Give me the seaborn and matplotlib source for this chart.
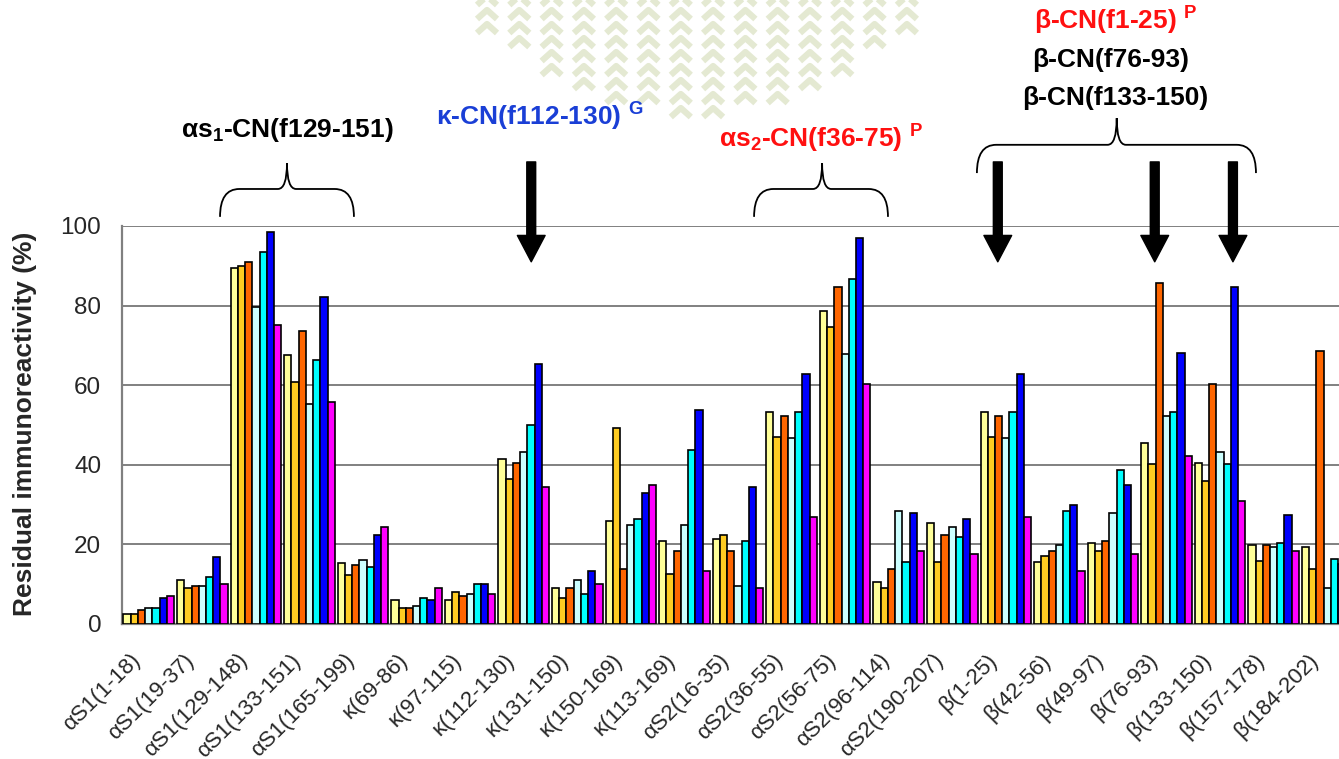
import numpy as np
import pandas as pd
import matplotlib
matplotlib.use("Agg")
import matplotlib.pyplot as plt
import matplotlib.transforms as mtransforms
from matplotlib.path import Path
from matplotlib.patches import PathPatch
from matplotlib.lines import Line2D
import seaborn as sns

# peptide fragments on the x axis
peptides = ["αS1(1-18)", "αS1(19-37)", "αS1(129-148)", "αS1(133-151)", "αS1(165-199)",
            "κ(69-86)", "κ(97-115)", "κ(112-130)", "κ(131-150)", "κ(150-169)", "κ(113-169)",
            "αS2(16-35)", "αS2(36-55)", "αS2(56-75)", "αS2(96-114)", "αS2(190-207)",
            "β(1-25)", "β(42-56)", "β(49-97)", "β(76-93)", "β(133-150)", "β(157-178)", "β(184-202)"]

series = ["S1", "S2", "S3", "S4", "S5", "S6", "S7"]
colors = ["#FFFF99", "#FFCC22", "#FF6600", "#CCFFFF", "#00FFFF", "#0000FF", "#FF00FF"]

s1 = [2.5, 11.1, 89.4, 67.5, 15.3, 6.0, 6.0, 41.5, 9.1, 25.8, 20.8, 21.3, 53.3, 78.6, 10.6, 25.3, 53.3, 15.7, 20.3, 45.6, 40.5, 19.8, 19.3]
s2 = [2.5, 9.1, 89.9, 60.9, 12.2, 4.0, 8.0, 36.5, 6.5, 49.2, 12.6, 22.3, 47.1, 74.6, 9.1, 15.7, 47.1, 17.2, 18.3, 40.1, 36.0, 15.8, 13.7]
s3 = [3.5, 9.6, 90.9, 73.6, 14.7, 4.0, 7.0, 40.5, 9.1, 13.7, 18.3, 18.3, 52.2, 84.7, 13.7, 22.3, 52.2, 18.3, 20.8, 85.8, 60.4, 19.8, 68.5]
s4 = [4.1, 9.6, 79.6, 55.2, 16.2, 4.6, 7.5, 43.1, 11.1, 24.8, 24.8, 9.6, 46.7, 67.9, 28.3, 24.3, 46.7, 19.8, 27.8, 52.2, 43.1, 19.3, 9.1]
s5 = [4.1, 11.7, 93.4, 66.4, 14.2, 6.5, 10.1, 50.1, 7.5, 26.3, 43.7, 20.8, 53.3, 86.8, 15.7, 21.8, 53.3, 28.3, 38.6, 53.3, 40.1, 20.3, 16.3]
s6 = [6.6, 16.8, 98.5, 82.1, 22.4, 6.0, 10.1, 65.4, 13.2, 33.0, 53.8, 34.5, 62.9, 97.0, 27.8, 26.3, 62.9, 29.8, 35.0, 68.0, 84.7, 27.5, 15.0]
s7 = [7.0, 10.1, 75.1, 55.8, 24.3, 9.1, 7.5, 34.4, 10.1, 35.0, 13.2, 9.1, 26.8, 60.4, 18.3, 17.7, 26.8, 13.2, 17.7, 42.1, 30.8, 18.4, 12.0]

yticks = [0, 20, 40, 60, 80, 100]

# annotations: (text, x center, y center, colour)
labels_txt = [
    ("αs$_1$-CN(f129-151)", 2.58, 124.0, "black"),
    ("κ-CN(f112-130) $^{G}$", 7.30, 127.5, "#1a3fd6"),
    ("αs$_2$-CN(f36-75) $^{P}$", 12.55, 122.0, "#ff1010"),
    ("β-CN(f1-25) $^{P}$", 18.05, 151.5, "#ff1010"),
    ("β-CN(f76-93)", 17.95, 141.8, "black"),
    ("β-CN(f133-150)", 18.05, 132.2, "black"),
]
# braces: x0, x1, tip, y bottom, y mid, y top
braces = [(1.33, 3.83, 2.58, 102.3, 109.3, 115.8),
          (11.3, 13.8, 12.57, 102.3, 109.3, 115.8),
          (15.46, 20.67, 18.07, 113.3, 120.4, 127.1)]
arrows_x = [7.14, 15.85, 18.78, 20.24]

df = pd.DataFrame({
    "peptide": np.tile(peptides, len(series)),
    "series": np.repeat(series, len(peptides)),
    "value": np.concatenate([s1, s2, s3, s4, s5, s6, s7]),
})

sns.set_style("white")
plt.rcParams["font.family"] = ["Liberation Sans", "DejaVu Sans"]
plt.rcParams["mathtext.fontset"] = "custom"
plt.rcParams["mathtext.rm"] = "Liberation Sans:bold"
plt.rcParams["mathtext.it"] = "Liberation Sans:bold"
plt.rcParams["mathtext.bf"] = "Liberation Sans:bold"

W, H = 1339, 759
fig = plt.figure(figsize=(W / 100, H / 100), dpi=100)
ax = fig.add_axes([122 / W, 1 - 624 / H, 1232 / W, 398 / H])

# faint background watermark (chevron columns)
for k in range(14):
    cx = 487 + 32.3 * k
    ybot = -190 + np.sqrt(max(300 ** 2 - (cx - 697) ** 2, 0))
    y = -4.0
    while y < ybot:
        xs = np.array([cx - 10, cx, cx + 10]) / W
        ys = 1 - np.array([y + 9, y, y + 9]) / H
        fig.add_artist(Line2D(xs, ys, color="#e4e9d2", lw=4.5, zorder=0,
                              solid_capstyle="butt"))
        y += 14

sns.barplot(data=df, x="peptide", y="value", hue="series", order=peptides,
            hue_order=series, palette=colors, width=0.945, edgecolor="black",
            linewidth=1.2, saturation=1, legend=False, ax=ax, zorder=3)

ax.set_xlim(-0.5, len(peptides) - 0.5)
ax.set_ylim(0, 100)
ax.set_yticks(yticks)
ax.yaxis.grid(True, color="#808080", lw=1.4)
ax.set_axisbelow(True)
for side in ["top", "right"]:
    ax.spines[side].set_visible(False)
for side in ["left", "bottom"]:
    ax.spines[side].set_color("#808080")
    ax.spines[side].set_linewidth(1.6)
ax.set_xlabel("")
ax.set_ylabel("")

ax.tick_params(axis="y", length=6, width=1.4, color="#808080", pad=9, labelsize=17.5)
ax.set_xticks(np.arange(-0.5, len(peptides)), minor=True)
ax.tick_params(axis="x", which="minor", length=6, width=1.4, color="#808080")
ax.tick_params(axis="x", which="major", length=0, pad=24, labelsize=16)
ax.set_xticks(range(len(peptides)))
ax.set_xticklabels(peptides, rotation=45, ha="right", rotation_mode="anchor")
off = mtransforms.ScaledTranslation(-12 / 100, 0, fig.dpi_scale_trans)
for lab in ax.get_xticklabels():
    lab.set_transform(lab.get_transform() + off)
    lab.set_va("center")

fig.text(25 / W, 1 - 424 / H, "Residual immunoreactivity (%)", rotation=90,
         ha="center", va="center", fontsize=19, fontweight="bold")

for txt, x, y, c in labels_txt:
    ax.text(x, y, txt, ha="center", va="center", fontsize=19, fontweight="bold",
            color=c, clip_on=False)


def draw_brace(x0, x1, xc, yb, ym, yt):
    d = 0.36
    t = 0.17
    verts = [(x0, yb), (x0, ym), (x0 + d, ym),
             (xc - t, ym),
             (xc, ym), (xc, yt),
             (xc, ym), (xc + t, ym),
             (x1 - d, ym),
             (x1, ym), (x1, yb)]
    codes = [Path.MOVETO, Path.CURVE3, Path.CURVE3, Path.LINETO,
             Path.CURVE3, Path.CURVE3, Path.CURVE3, Path.CURVE3,
             Path.LINETO, Path.CURVE3, Path.CURVE3]
    ax.add_patch(PathPatch(Path(verts, codes), fill=False, lw=1.3,
                           edgecolor="black", clip_on=False))


for b in braces:
    draw_brace(*b)

for xa in arrows_x:
    ax.annotate("", xy=(xa, 91.0), xytext=(xa, 116.1),
                arrowprops=dict(arrowstyle="simple,head_length=0.95,head_width=1.0,tail_width=0.32",
                                mutation_scale=20, color="black", shrinkA=0, shrinkB=0),
                annotation_clip=False)

fig.savefig("out.png", dpi=100)
